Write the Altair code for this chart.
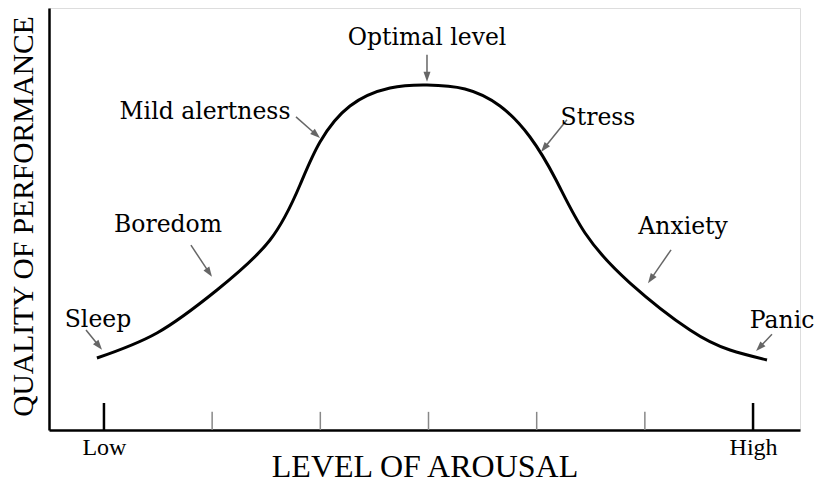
import math
import altair as alt
import pandas as pd

# ---- data (arousal units: Low=0 ... High=6 ; quality 0..100) ----
curve_x = [-0.065, 0.490, 1.045, 1.535, 1.812, 1.997, 2.274, 2.644, 2.986, 3.337,
           3.661, 3.938, 4.179, 4.447, 4.863, 5.417, 5.787, 6.129]
curve_y = [17.06, 22.99, 33.18, 45.02, 58.06, 68.25, 76.78, 81.04, 81.75, 80.81,
           76.78, 69.43, 59.24, 46.68, 34.83, 23.70, 18.96, 16.59]

labels = ["Optimal level", "Mild alertness", "Stress", "Boredom", "Anxiety", "Sleep", "Panic"]
label_x = [2.986, 0.934, 4.567, 0.592, 5.353, -0.055, 6.268]
label_y = [92.9, 75.4, 73.9, 48.6, 48.1, 26.1, 25.8]

arrow_x1 = [2.986, 1.775, 4.280, 0.804, 5.242, -0.166, 6.175]
arrow_y1 = [88.9, 74.2, 73.5, 43.8, 42.7, 23.7, 22.7]
arrow_x2 = [2.986, 1.997, 4.040, 0.998, 5.029, -0.018, 6.028]
arrow_y2 = [82.5, 69.2, 65.9, 36.3, 34.8, 19.0, 18.7]

tick_vals = [0, 1, 2, 3, 4, 5, 6]
tick_major = [True, False, False, False, False, False, True]

X_DOMAIN = [-0.508, 6.434]
Y_DOMAIN = [0, 100]
W, H = 751, 422
PXX = W / (X_DOMAIN[1] - X_DOMAIN[0])
PXY = H / (Y_DOMAIN[1] - Y_DOMAIN[0])

# ---- build tables ----
curve = pd.DataFrame({"x": curve_x, "y": curve_y})
lab = pd.DataFrame({"x": label_x, "y": label_y, "t": labels})

rows = []
for x1, y1, x2, y2 in zip(arrow_x1, arrow_y1, arrow_x2, arrow_y2):
    dx = (x2 - x1) * PXX
    dy = -(y2 - y1) * PXY
    L = math.hypot(dx, dy)
    ux, uy = dx / L, dy / L
    ang = math.degrees(math.atan2(dx, -dy)) % 360
    hx = x2 - ux * 5 / PXX
    hy = y2 + uy * 5 / PXY
    lx = x2 - ux * 8 / PXX
    ly = y2 + uy * 8 / PXY
    rows.append({"x1": x1, "y1": y1, "lx": lx, "ly": ly, "hx": hx, "hy": hy, "ang": ang})
arr = pd.DataFrame(rows)

ticks = pd.DataFrame({"x": tick_vals, "major": tick_major})
ticks["y2"] = [6.4 if m else 4.3 for m in tick_major]
ticks["y"] = 0

xs = alt.Scale(domain=X_DOMAIN, nice=False, zero=False)
ys = alt.Scale(domain=Y_DOMAIN, nice=False, zero=False)

x_axis = alt.Axis(values=[0, 6], labelExpr="datum.value == 0 ? 'Low' : 'High'",
                  ticks=False, tickSize=0, grid=False, domain=True, domainColor="black",
                  domainWidth=2.5, labelFont="Liberation Serif", labelFontSize=24,
                  labelColor="black", labelPadding=5, labelAngle=0,
                  title="LEVEL OF AROUSAL", titleFont="Liberation Serif", titleFontSize=32,
                  titleFontWeight="normal", titleColor="black", titleBaseline="top",
                  titleY=21)
y_axis = alt.Axis(labels=False, ticks=False, grid=False, domain=True, domainColor="black",
                  domainWidth=2.5, title="QUALITY OF PERFORMANCE",
                  titleFont="Liberation Serif", titleFontSize=29.5, titleFontWeight="normal",
                  titleColor="black", titleAngle=270, titleBaseline="middle",
                  titleAlign="center", titleX=-26, titleY=208)

base_axes = alt.Chart(curve).mark_line(stroke="black", strokeWidth=3, interpolate="natural").encode(
    x=alt.X("x:Q", scale=xs, axis=x_axis),
    y=alt.Y("y:Q", scale=ys, axis=y_axis),
)

tick_layer = alt.Chart(ticks).mark_rule().encode(
    x=alt.X("x:Q", scale=xs), y=alt.Y("y:Q", scale=ys), y2="y2:Q",
    color=alt.condition("datum.major", alt.value("black"), alt.value("#888888")),
    strokeWidth=alt.condition("datum.major", alt.value(2.5), alt.value(1.5)),
)

arrow_lines = alt.Chart(arr).mark_rule(color="#666666", strokeWidth=1.5).encode(
    x=alt.X("x1:Q", scale=xs), y=alt.Y("y1:Q", scale=ys), x2="lx:Q", y2="ly:Q")

arrow_heads = alt.Chart(arr).mark_point(
    shape="M0,-1L0.7,1L-0.7,1Z", filled=True, color="#666666", opacity=1, size=100
).encode(x=alt.X("hx:Q", scale=xs), y=alt.Y("hy:Q", scale=ys), angle=alt.Angle("ang:Q", scale=None))

text_layer = alt.Chart(lab).mark_text(font="DejaVu Serif", fontSize=23.5, color="black",
                                      align="center", baseline="middle").encode(
    x=alt.X("x:Q", scale=xs), y=alt.Y("y:Q", scale=ys), text="t:N")

chart = alt.layer(tick_layer, base_axes, arrow_lines, arrow_heads, text_layer).properties(
    width=W, height=H,
    autosize=alt.AutoSizeParams(type="none"),
    padding={"left": 41, "top": 0, "right": 18, "bottom": 54},
).configure_view(stroke=None).configure(background="white")

chart.save("out.html", embed_options={"renderer": "svg", "actions": False})
